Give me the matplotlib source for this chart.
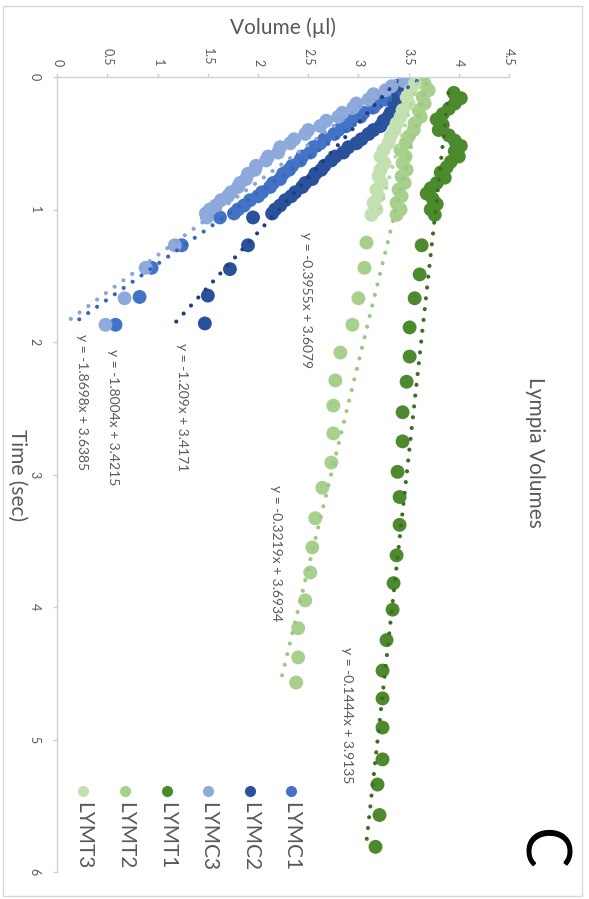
import matplotlib
matplotlib.use("Agg")
import matplotlib.pyplot as plt
from matplotlib.patches import Rectangle
from matplotlib.lines import Line2D
import numpy as np

plt.rcParams['font.family'] = ['Lato', 'DejaVu Sans']

# ---------------- data ----------------
SERIES = ["LYMC1", "LYMC2", "LYMC3", "LYMT1", "LYMT2", "LYMT3"]
COLORS = ["#4273c6", "#2a529c", "#8eaadc", "#4d8a2e", "#a6d08b", "#c3e1b0"]
TREND_COLORS = ["#3966b8", "#213f7e", "#89a5d6", "#3e6e25", "#9cc784", "#b5d8a0"]

# frame times (s) of the densely sampled part
T_BLUE = [0.03, 0.07, 0.10, 0.13, 0.17, 0.20, 0.23, 0.27, 0.30, 0.33, 0.37,
          0.40, 0.43, 0.47, 0.50, 0.53, 0.57, 0.60, 0.63, 0.67, 0.70, 0.73,
          0.77, 0.80, 0.83, 0.87, 0.90, 0.93, 0.97, 1.00, 1.03]
T_GREEN = [0.05, 0.10, 0.15, 0.20, 0.25, 0.30, 0.35, 0.40, 0.45, 0.50, 0.55,
           0.60, 0.65, 0.70, 0.75, 0.80, 0.85, 0.90, 0.95, 1.00, 1.04]
T_LYMT1 = [0.12, 0.16, 0.20, 0.24, 0.28, 0.32, 0.36, 0.40, 0.44, 0.48, 0.52,
           0.56, 0.60, 0.64, 0.68, 0.72, 0.76, 0.80, 0.84, 0.88, 0.92, 0.96,
           1.00, 1.04]

LYMC1_V = [3.50, 3.42, 3.40, 3.30, 3.27, 3.18, 3.15, 3.05, 3.02, 2.92, 2.88,
           2.80, 2.76, 2.66, 2.62, 2.55, 2.52, 2.44, 2.42, 2.34, 2.31, 2.25,
           2.22, 2.15, 2.12, 2.04, 2.00, 1.92, 1.86, 1.80, 1.76]
LYMC2_V = [3.48, 3.45, 3.44, 3.40, 3.40, 3.36, 3.37, 3.32, 3.30, 3.25, 3.22,
           3.15, 3.10, 3.03, 2.98, 2.90, 2.85, 2.77, 2.73, 2.66, 2.63, 2.57,
           2.54, 2.47, 2.44, 2.37, 2.33, 2.27, 2.22, 2.17, 2.14]
LYMC3_V = [3.45, 3.33, 3.27, 3.15, 3.10, 2.98, 2.95, 2.84, 2.80, 2.68, 2.62,
           2.50, 2.47, 2.36, 2.32, 2.22, 2.20, 2.10, 2.08, 1.98, 1.97, 1.90,
           1.88, 1.82, 1.80, 1.73, 1.70, 1.63, 1.58, 1.52, 1.48]
LYMT1_V = [3.95, 4.02, 3.96, 3.90, 3.84, 3.78, 3.84, 3.80, 3.90, 3.96, 4.02,
           3.96, 4.00, 3.92, 3.88, 3.82, 3.86, 3.78, 3.72, 3.68, 3.74, 3.78,
           3.72, 3.76]
LYMT2_V = [3.66, 3.70, 3.64, 3.66, 3.60, 3.62, 3.56, 3.55, 3.50, 3.47, 3.42,
           3.47, 3.44, 3.48, 3.43, 3.46, 3.40, 3.43, 3.38, 3.42, 3.38]
LYMT3_V = [3.56, 3.52, 3.48, 3.50, 3.44, 3.42, 3.38, 3.36, 3.32, 3.30, 3.25,
           3.22, 3.26, 3.22, 3.20, 3.23, 3.18, 3.20, 3.15, 3.18, 3.13]

# sparsely sampled tail of each recording
LYMC1_TAIL_T = [1.06, 1.27, 1.44, 1.66, 1.87]
LYMC1_TAIL_V = [1.62, 1.24, 0.94, 0.82, 0.58]
LYMC2_TAIL_T = [1.06, 1.27, 1.45, 1.65, 1.86]
LYMC2_TAIL_V = [1.95, 1.90, 1.72, 1.50, 1.47]
LYMC3_TAIL_T = [1.06, 1.27, 1.44, 1.67, 1.87]
LYMC3_TAIL_V = [1.49, 1.17, 0.88, 0.67, 0.48]
LYMT1_TAIL_T = [1.27, 1.49, 1.67, 1.89, 2.11, 2.30, 2.53, 2.75, 2.98, 3.17,
                3.38, 3.61, 3.82, 4.02, 4.25, 4.48, 4.69, 4.91, 5.15, 5.34,
                5.57, 5.81]
LYMT1_TAIL_V = [3.63, 3.61, 3.56, 3.51, 3.51, 3.48, 3.44, 3.44, 3.39, 3.41,
                3.41, 3.38, 3.35, 3.34, 3.28, 3.24, 3.24, 3.24, 3.24, 3.19,
                3.21, 3.17]
LYMT2_TAIL_T = [1.25, 1.44, 1.67, 1.87, 2.08, 2.29, 2.48, 2.69, 2.91, 3.10,
                3.33, 3.55, 3.74, 3.95, 4.16, 4.38, 4.57]
LYMT2_TAIL_V = [3.08, 3.06, 3.00, 2.94, 2.82, 2.77, 2.75, 2.75, 2.73, 2.64,
                2.57, 2.54, 2.52, 2.47, 2.40, 2.40, 2.38]

# linear trend lines: volume = slope * time + intercept
TREND_SLOPE = [-1.8698, -1.209, -1.8004, -0.1444, -0.3219, -0.3955]
TREND_INTERCEPT = [3.6385, 3.4171, 3.4215, 3.9135, 3.6934, 3.6079]

# ---------------- assemble series ----------------
times = [T_BLUE + LYMC1_TAIL_T, T_BLUE + LYMC2_TAIL_T, T_BLUE + LYMC3_TAIL_T,
         T_LYMT1 + LYMT1_TAIL_T, T_GREEN + LYMT2_TAIL_T, T_GREEN]
vols = [LYMC1_V + LYMC1_TAIL_V, LYMC2_V + LYMC2_TAIL_V, LYMC3_V + LYMC3_TAIL_V,
        LYMT1_V + LYMT1_TAIL_V, LYMT2_V + LYMT2_TAIL_V, LYMT3_V]

W, H = 589, 899
fig = plt.figure(figsize=(W / 100, H / 100), dpi=100)


def fx(x):
    return x / W


def fy(y):
    return 1 - y / H


# light frame around the chart area
fig.patches.append(Rectangle((fx(3), fy(896)), fx(582) - fx(3), fy(6) - fy(896),
                             transform=fig.transFigure, fill=False,
                             edgecolor="#d9d9d9", linewidth=1.0))

# the chart is laid out turned a quarter turn: volume across the top,
# time running down the page
ax = fig.add_axes([fx(57.3), fy(872), fx(509) - fx(57.3), fy(77) - fy(872)])
ax.set_xlim(0, 4.5)
ax.set_ylim(6, 0)

for t, v, c in zip(times, vols, COLORS):
    ax.scatter(v, t, s=100, color=c, edgecolors="none", zorder=2)

dot_style = (0, (0.01, 2.6))
for t, slope, icpt, c in zip(times, TREND_SLOPE, TREND_INTERCEPT, TREND_COLORS):
    tt = np.array([min(t), max(t)])
    ax.plot(slope * tt + icpt, tt, color=c, linewidth=3.0,
            linestyle=dot_style, dash_capstyle="round", zorder=3)

# trend-line equations
eq_pos = [(0.25, 2.45), (1.24, 2.49), (0.555, 2.57),
          (2.89, 4.82), (2.18, 3.59), (2.48, 1.68)]
for (vx, ty), slope, icpt in zip(eq_pos, TREND_SLOPE, TREND_INTERCEPT):
    ax.text(vx, ty, f"y = {slope:g}x + {icpt:g}", rotation=-90,
            ha="center", va="center", fontsize=10, color="#595959", zorder=4)

# axes styling
for side in ("right", "bottom"):
    ax.spines[side].set_visible(False)
for side in ("left", "top"):
    ax.spines[side].set_color("#d0d0d0")
    ax.spines[side].set_linewidth(1.0)

ax.xaxis.tick_top()
ax.set_xticks([0, 0.5, 1, 1.5, 2, 2.5, 3, 3.5, 4, 4.5])
ax.set_xticklabels(["0", "0.5", "1", "1.5", "2", "2.5", "3", "3.5", "4", "4.5"],
                   rotation=-90)
ax.set_yticks([0, 1, 2, 3, 4, 5, 6])
ax.set_yticklabels(["0", "1", "2", "3", "4", "5", "6"], rotation=-90, va="center")
ax.tick_params(axis="x", which="both", length=3, width=1, color="#d0d0d0",
               labelsize=9, labelcolor="#595959", pad=5)
ax.tick_params(axis="y", which="both", length=3, width=1, color="#d0d0d0",
               labelsize=9, labelcolor="#595959", pad=9)
ax.patch.set_alpha(0)

# titles
fig.text(fx(283), fy(28), "Volume (\u00b5l)", ha="center", va="center",
         fontsize=15, color="#595959")
fig.text(fx(17), fy(475), "Time (sec)", ha="center", va="center",
         rotation=-90, fontsize=15, color="#595959")
fig.text(fx(535), fy(452), "Lympia Volumes", ha="center", va="center",
         rotation=-90, fontsize=15, color="#595959")
fig.text(fx(540), fy(848), "C", ha="center", va="center", rotation=-90,
         fontsize=44, fontweight="normal", color="black")

# legend, turned with the chart
legend_x = [291, 250, 208, 167, 125, 83]
for name, c, lx in zip(SERIES, COLORS, legend_x):
    fig.lines.append(Line2D([fx(lx)], [fy(791)], transform=fig.transFigure,
                            marker="o", markersize=8, color=c,
                            markeredgecolor="none", linestyle="none"))
    fig.text(fx(lx), fy(802), name, ha="center", va="top", rotation=-90,
             fontsize=15, color="#595959")

fig.savefig("out.png", dpi=100, facecolor="white")
